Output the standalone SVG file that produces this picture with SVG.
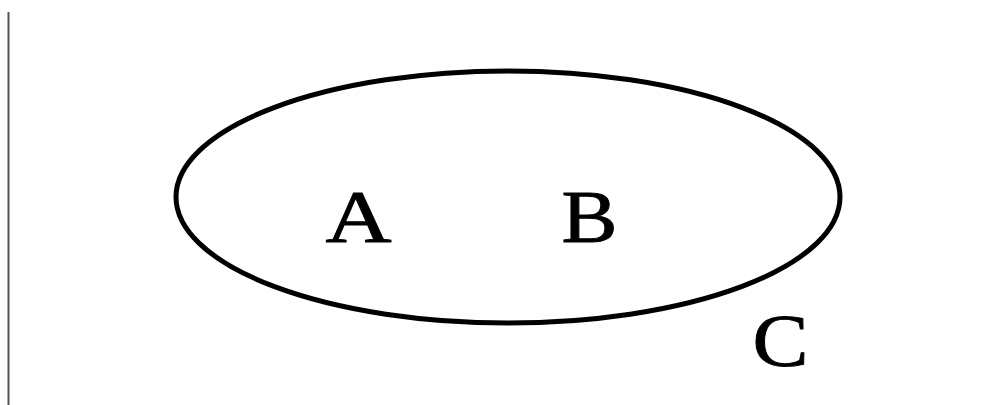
<svg xmlns="http://www.w3.org/2000/svg" width="996" height="405" viewBox="0 0 996 405">
<style>
.lbl{font-family:"Liberation Serif","Times New Roman",serif;font-size:75px;fill:#000;stroke:#000;stroke-width:0.9;text-anchor:middle}
</style>
<rect width="996" height="405" fill="#fff"/>
<line x1="8.5" y1="12" x2="8.5" y2="405" stroke="#555" stroke-width="2"/>
<g id="C">
<ellipse cx="508" cy="197" rx="332" ry="126" fill="none" stroke="#000" stroke-width="5"/>
<text class="lbl" transform="translate(780.5 366) scale(1.12 1)">C</text>
</g>
<g id="A"><text class="lbl" transform="translate(358.5 242) scale(1.22 1)">A</text></g>
<g id="B"><text class="lbl" transform="translate(589.5 242) scale(1.12 1)">B</text></g>
<g id="connectors"/>
</svg>
